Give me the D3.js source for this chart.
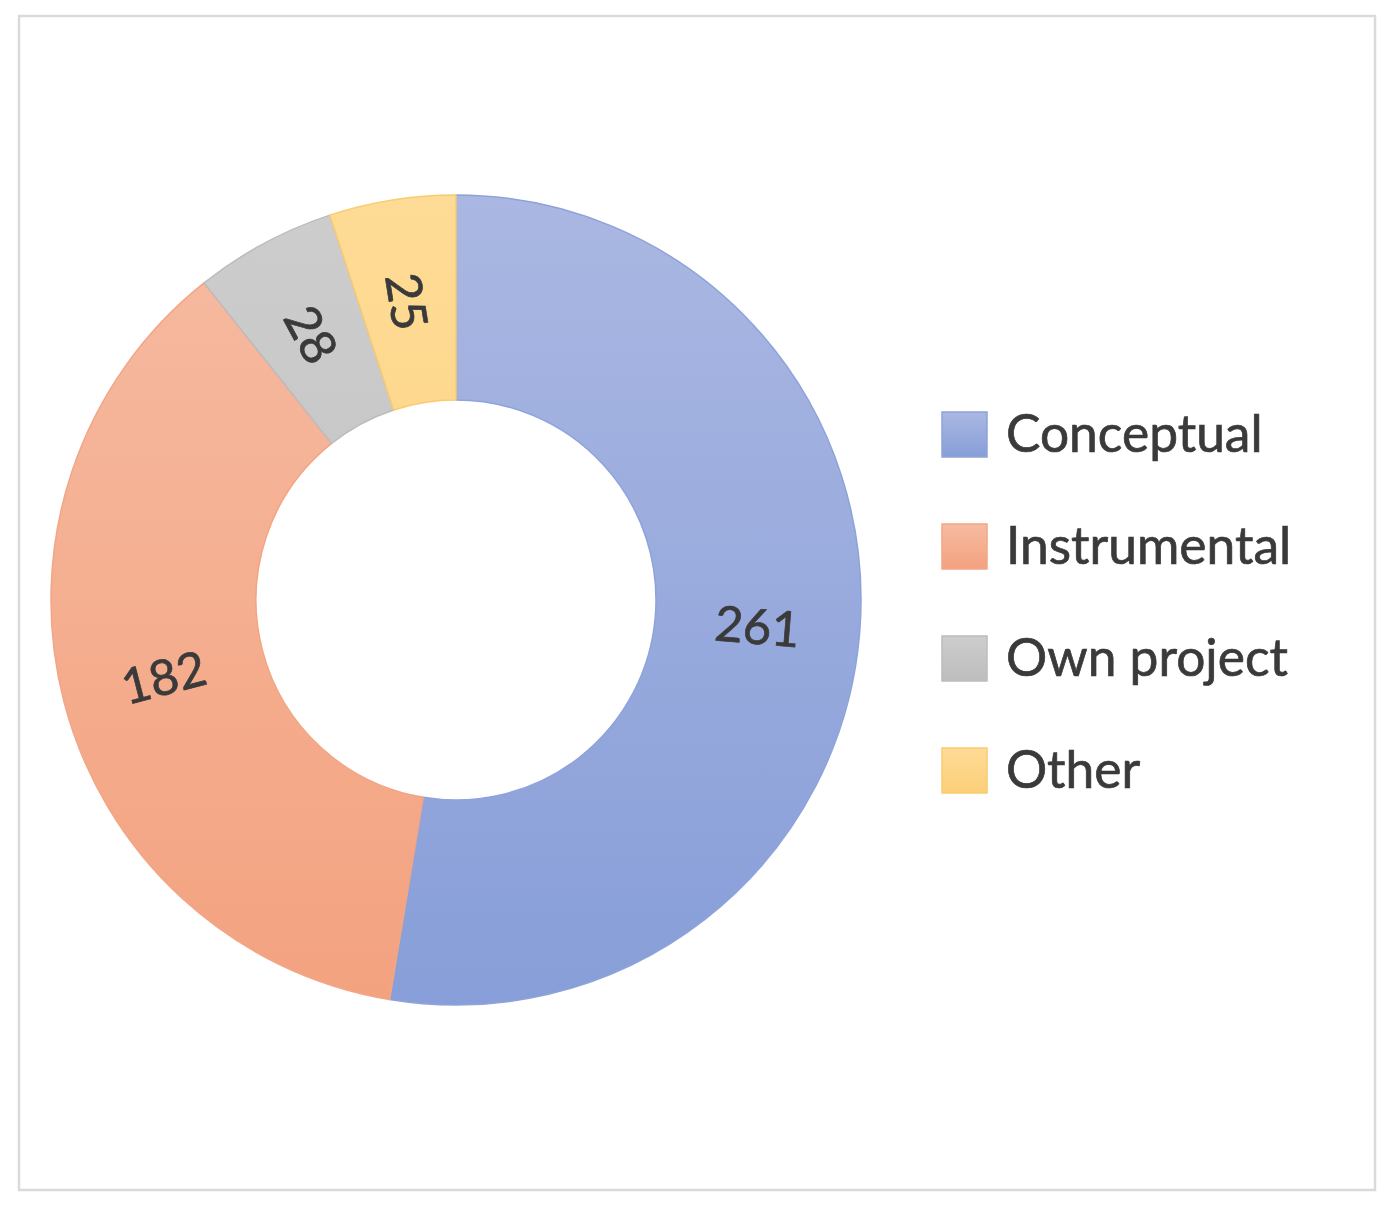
<!DOCTYPE html>
<html>
<head>
<meta charset="utf-8">
<script src="https://cdn.jsdelivr.net/npm/d3@7"></script>
<style>
  html, body { margin: 0; padding: 0; background: #fff; }
  svg { display: block; }
  text { font-family: Lato, "Open Sans", sans-serif; fill: #3a3a3a; stroke: #3a3a3a; stroke-width: 0.7px; }
</style>
</head>
<body>
<svg id="chart" width="1397" height="1210"></svg>
<script>
const categories = ['Conceptual', 'Instrumental', 'Own project', 'Other'];
const values = [261, 182, 28, 25];
const topColors = ['#aab7e2', '#f6bba2', '#cdcdcd', '#fedb96'];
const bottomColors = ['#879ed8', '#f3a27f', '#bdbdbd', '#fccf78'];
const edgeColors = ['#8ea3da', '#f2a685', '#bcbcbc', '#f9cc70'];

const cx = 456, cy = 600;
const rOuter = 405, rInner = 200;

const svg = d3.select('#chart');

// light grey frame round the whole chart
svg.append('rect')
  .attr('x', 19).attr('y', 16)
  .attr('width', 1356).attr('height', 1174)
  .attr('fill', '#fff')
  .attr('stroke', '#dadada')
  .attr('stroke-width', 2.5);

// vertical gradients, lighter on top (Office look)
const defs = svg.append('defs');
categories.forEach((c, i) => {
  const g = defs.append('linearGradient')
    .attr('id', 'grad' + i)
    .attr('gradientUnits', 'userSpaceOnUse')
    .attr('x1', 0).attr('y1', -rOuter)
    .attr('x2', 0).attr('y2', rOuter);
  g.append('stop').attr('offset', '0%').attr('stop-color', topColors[i]);
  g.append('stop').attr('offset', '100%').attr('stop-color', bottomColors[i]);

  const lg = defs.append('linearGradient')
    .attr('id', 'lgrad' + i)
    .attr('x1', 0).attr('y1', 0).attr('x2', 0).attr('y2', 1);
  lg.append('stop').attr('offset', '0%').attr('stop-color', topColors[i]);
  lg.append('stop').attr('offset', '100%').attr('stop-color', bottomColors[i]);
});

const pie = d3.pie().sort(null).value(d => d.value);
const arcs = pie(categories.map((c, i) => ({ name: c, value: values[i], i })));
const arc = d3.arc().innerRadius(rInner).outerRadius(rOuter);
const total = d3.sum(values);

const g = svg.append('g').attr('transform', `translate(${cx},${cy})`);

g.selectAll('path.slice')
  .data(arcs)
  .join('path')
  .attr('class', 'slice')
  .attr('d', arc)
  .attr('fill', d => `url(#grad${d.data.i})`)
  .attr('stroke', d => edgeColors[d.data.i])
  .attr('stroke-width', 1.5);

// value labels: big slices run along the ring, thin ones point inwards
g.selectAll('text.val')
  .data(arcs)
  .join('text')
  .attr('class', 'val')
  .attr('text-anchor', 'middle')
  .attr('dominant-baseline', 'central')
  .attr('font-size', 49)
  .attr('transform', d => {
    const [x, y] = arc.centroid(d);
    const mid = (d.startAngle + d.endAngle) / 2 * 180 / Math.PI;
    let rot;
    if (d.data.value / total > 0.2) {
      rot = mid > 180 ? mid - 270 : mid - 90;
    } else {
      rot = mid - 270;
    }
    return `translate(${x},${y}) rotate(${rot})`;
  })
  .text(d => d.data.value);

// legend
const legend = svg.append('g').attr('transform', 'translate(942,434)');
const rowH = 112;
const items = legend.selectAll('g.item')
  .data(categories)
  .join('g')
  .attr('class', 'item')
  .attr('transform', (d, i) => `translate(0,${i * rowH})`);

items.append('rect')
  .attr('x', 0).attr('y', -22)
  .attr('width', 45).attr('height', 45)
  .attr('fill', (d, i) => `url(#lgrad${i})`)
  .attr('stroke', (d, i) => edgeColors[i])
  .attr('stroke-width', 1.5);

items.append('text')
  .attr('x', 64).attr('y', -2)
  .attr('dominant-baseline', 'central')
  .attr('font-size', 51.5)
  .text(d => d);
</script>
</body>
</html>
